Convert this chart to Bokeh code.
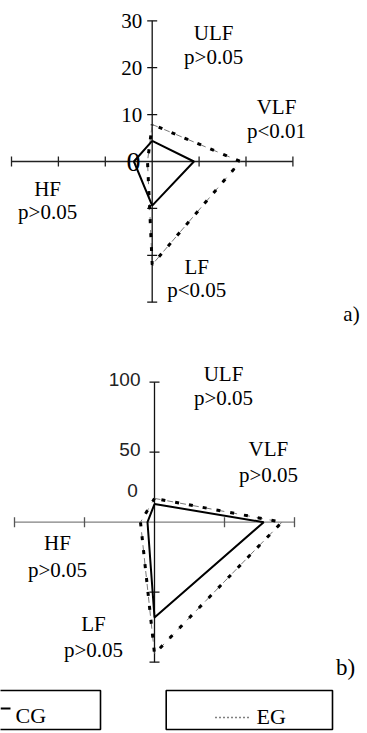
from bokeh.plotting import figure
from bokeh.layouts import column
from bokeh.models import Range1d
from bokeh.core.properties import value
from bokeh.embed import file_html
from bokeh.resources import INLINE

# ---------------- data ----------------
axes_names = ["ULF", "VLF", "LF", "HF"]
# chart a)
a_cg = [4.4, 8.9, 9.4, 3.9]
a_eg = [7.9, 18.8, 22.0, 1.0]
a_p = ["p>0.05", "p<0.01", "p<0.05", "p>0.05"]
a_ticks = [10, 20, 30]
a_tick_labels = ["10", "20", "30"]
# chart b)
b_cg = [13, 78, 68, 5]
b_eg = [17, 91, 94, 10]
b_p = ["p>0.05", "p>0.05", "p>0.05", "p>0.05"]
b_ticks = [50, 100]
b_tick_labels = ["50", "100"]
legend_labels = ["CG", "EG"]

DIRS = [(0, 1), (1, 0), (0, -1), (-1, 0)]
SERIF = value("Liberation Serif")
SANS = value("Liberation Sans")


def make_fig(w, h, cx, cy, s):
    p = figure(width=w, height=h, output_backend="svg", toolbar_location=None,
               x_range=Range1d(-cx / s, (w - cx) / s),
               y_range=Range1d(-(h - cy) / s, cy / s),
               x_axis_location=None, y_axis_location=None,
               min_border=0, min_border_left=0, min_border_right=0,
               min_border_top=0, min_border_bottom=0)
    p.grid.visible = False
    p.outline_line_color = None
    p.background_fill_color = "white"
    p.border_fill_color = "white"
    return p


def polygon(vals):
    xs = [DIRS[i][0] * v for i, v in enumerate(vals)]
    ys = [DIRS[i][1] * v for i, v in enumerate(vals)]
    return xs + [xs[0]], ys + [ys[0]]


def draw_series(p, cg, eg):
    xs, ys = polygon(eg)
    p.line(xs, ys, line_color="#555555", line_width=0.8, line_dash="6 7")
    p.line(xs, ys, line_color="black", line_width=3, line_dash="4 10", line_dash_offset=-7)
    xs, ys = polygon(cg)
    p.line(xs, ys, line_color="black", line_width=2)


def draw_axes(p, ticks, s, hcolor, vcolor, htick_color):
    m = ticks[-1]
    half = 5.0 / s
    p.line([-m, m], [0, 0], line_color=hcolor, line_width=1.3)
    p.line([0, 0], [-m, m], line_color=vcolor, line_width=1.3)
    tx = [t * sg for t in ticks for sg in (-1, 1)]
    p.segment(x0=tx, y0=[-half] * len(tx), x1=tx, y1=[half] * len(tx),
              line_color=htick_color, line_width=1.3)
    p.segment(x0=[-half] * len(tx), y0=tx, x1=[half] * len(tx), y1=tx,
              line_color=vcolor, line_width=1.3)


def axis_labels(p, pos, pvals, size):
    for (x, y), name, pv in zip(pos, axes_names, pvals):
        p.text(x=[x], y=[y[0]], text=[name], text_font=SERIF, text_font_size=size,
               text_align="center", text_baseline="middle", text_color="black")
        p.text(x=[x], y=[y[1]], text=[pv], text_font=SERIF, text_font_size=size,
               text_align="center", text_baseline="middle", text_color="black")


# ---------------- chart a ----------------
SA = 4.69
pa = make_fig(367, 330, 151.7, 161.0, SA)
draw_axes(pa, a_ticks, SA, "#222222", "#111111", "#222222")
draw_series(pa, a_cg, a_eg)
pa.text(x=[-2.1] * len(a_ticks), y=a_ticks, text=a_tick_labels, text_font=SERIF,
        text_font_size="21px", text_align="right", text_baseline="middle", text_color="black")
pa.text(x=[-4.0], y=[0], text=["0"], text_font=SERIF, text_font_size="28px",
        text_align="center", text_baseline="middle", text_color="black")
a_pos = [(13.1, (27.5, 22.2)), (26.5, (11.7, 6.4)), (9.5, (-22.6, -27.5)), (-22.3, (-5.8, -10.7))]
axis_labels(pa, a_pos, a_p, "21px")
pa.text(x=[42.5], y=[-32.6], text=["a)"], text_font=SERIF, text_font_size="21px",
        text_align="center", text_baseline="middle", text_color="black")

# ---------------- chart b ----------------
SB = 1.4
pb = make_fig(367, 403, 154.0, 191.7, SB)
draw_axes(pb, b_ticks, SB, "#808080", "#111111", "#555555")
draw_series(pb, b_cg, b_eg)
pb.text(x=[-10.0] * len(b_ticks), y=[t + 2 for t in b_ticks], text=b_tick_labels, text_font=SANS,
        text_font_size="19px", text_align="right", text_baseline="middle", text_color="#222222")
pb.text(x=[-12.0], y=[23.0], text=["0"], text_font=SANS, text_font_size="19px",
        text_align="right", text_baseline="middle", text_color="#222222")
b_pos = [(49.3, (106.2, 88.4)), (81.4, (52.6, 33.4)), (-43.6, (-72.4, -91.6)), (-69.3, (-15.2, -33.8))]
axis_labels(pb, b_pos, b_p, "21px")
pb.text(x=[136.4], y=[-103.8], text=["b)"], text_font=SERIF, text_font_size="23px",
        text_align="center", text_baseline="middle", text_color="black")


# legend (positions given in reference pixels, converted to chart b units)
def bx(px):
    return (px - 154.0) / SB


def by(py):
    return (521.7 - py) / SB


pb.quad(left=[bx(-2), bx(165.7)], right=[bx(100), bx(332)], top=[by(690)] * 2,
        bottom=[by(729)] * 2, fill_color=None, line_color="black", line_width=1.6)
pb.line([bx(0), bx(10)], [by(708), by(708)], line_color="black", line_width=2)
pb.line([bx(215), bx(248)], [by(717), by(717)], line_color="black", line_width=1.5, line_dash="1 3")
pb.text(x=[bx(15), bx(256)], y=[by(715), by(716)], text=legend_labels, text_font=SERIF,
        text_font_size="22px", text_align="left", text_baseline="middle", text_color="black")

layout = column(pa, pb, spacing=0)
open("out.html", "w").write(file_html(layout, INLINE))
